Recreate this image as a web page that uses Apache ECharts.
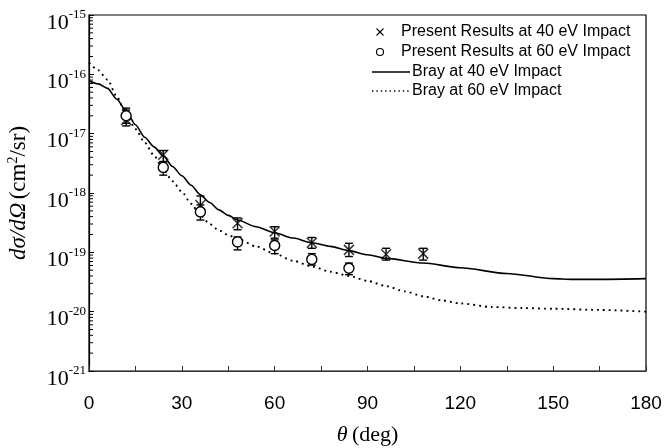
<!DOCTYPE html>
<html>
<head>
<meta charset="utf-8">
<script src="https://cdn.jsdelivr.net/npm/echarts@6/dist/echarts.min.js"></script>
<style>
html,body{margin:0;padding:0;background:#fff;}
#chart{width:666px;height:448px;}
</style>
</head>
<body>
<div id="chart"></div>
<script>
// ---- data (cm^2/sr) ----
var brayAngles = [0,3,6,9,12,15,18,21,24,27,30,33,36,39,42,45,48,54,60,66,72,78,84,90,96,108,120,135,150,156,165,180];
var bray40 = [7.8e-17,6.9e-17,5.8e-17,3.8e-17,2.4e-17,1.41e-17,8.7e-18,6.0e-18,4.2e-18,2.8e-18,1.95e-18,1.35e-18,9.3e-19,6.9e-19,5.2e-19,4.2e-19,3.5e-19,2.7e-19,2.14e-19,1.74e-19,1.45e-19,1.26e-19,1.07e-19,9.1e-20,7.9e-20,6.6e-20,5.5e-20,4.4e-20,3.6e-20,3.5e-20,3.5e-20,3.6e-20];
var bray60Angles = [0,3,6,9,12,15,18,21,24,27,30,33,36,39,42,45,48,54,60,66,72,78,84,90,96,102,108,114,120,130,140,150,165,180];
var bray60 = [1.58e-16,1.17e-16,8.1e-17,4.2e-17,2.1e-17,1.2e-17,7.1e-18,4.3e-18,2.5e-18,1.58e-18,1.05e-18,6.6e-19,4.2e-19,3.0e-19,2.35e-19,1.95e-19,1.7e-19,1.26e-19,9.5e-20,7.2e-20,5.8e-20,4.7e-20,4.0e-20,3.3e-20,2.7e-20,2.2e-20,1.82e-20,1.55e-20,1.38e-20,1.2e-20,1.15e-20,1.12e-20,1.07e-20,1.0e-20];

var exp40Angles = [12,24,36,48,60,72,84,96,108];
var exp40 = [1.7e-17,4.4e-18,6.3e-19,3.1e-19,2.24e-19,1.45e-19,1.1e-19,9.3e-20,9.5e-20];
var exp40Low = [1.35e-17,3.4e-18,5.1e-19,2.4e-19,1.73e-19,1.17e-19,8.5e-20,7.4e-20,7.4e-20];
var exp40High = [2.7e-17,5.2e-18,8.9e-19,3.8e-19,2.7e-19,1.78e-19,1.42e-19,1.17e-19,1.17e-19];

var exp60Angles = [12,24,36,48,60,72,84];
var exp60 = [2.0e-17,2.7e-18,4.8e-19,1.5e-19,1.3e-19,7.6e-20,5.4e-20];
var exp60Low = [1.5e-17,2.0e-18,3.5e-19,1.1e-19,9.5e-20,6.1e-20,4.2e-20];
var exp60High = [2.5e-17,3.2e-18,6.3e-19,1.82e-19,1.62e-19,9.5e-20,6.6e-20];

var xTicks = [0,30,60,90,120,150,180];
var yTickExps = [-21,-20,-19,-18,-17,-16,-15];
var minorMantissas = [2,3,4,5,6,7,8,9];
var legendLabels = ['Present Results at 40 eV Impact','Present Results at 60 eV Impact','Bray at 40 eV Impact','Bray at 60 eV Impact'];

// axis works in units of 1e-21 cm^2/sr (ECharts rounds below 1e-20)
var UNIT_EXP = 21;
var UNIT = 1e21;
function zip(a,b){return a.map(function(v,i){return [v,b[i]*UNIT];});}
function zipErr(a,lo,hi){return a.map(function(v,i){return [v,lo[i]*UNIT,hi[i]*UNIT];});}

// minor tick positions (axis decoration) in axis units
var minorTickVals = [];
yTickExps.slice(0, -1).forEach(function(e){
  minorMantissas.forEach(function(m){ minorTickVals.push([0, m * Math.pow(10, e + UNIT_EXP)]); });
});

var SERIF = 'Liberation Serif';
var SANS = 'Liberation Sans';

var chart = echarts.init(document.getElementById('chart'), null, {renderer:'canvas'});

function errRender(params, api){
  var x = api.value(0);
  var lo = api.coord([x, api.value(1)]);
  var hi = api.coord([x, api.value(2)]);
  var w = 4;
  return {
    type:'group',
    children:[
      {type:'line', shape:{x1:lo[0],y1:lo[1],x2:hi[0],y2:hi[1]}, style:{stroke:'#000',lineWidth:1.4}},
      {type:'line', shape:{x1:lo[0]-w,y1:lo[1],x2:lo[0]+w,y2:lo[1]}, style:{stroke:'#000',lineWidth:1.4}},
      {type:'line', shape:{x1:hi[0]-w,y1:hi[1],x2:hi[0]+w,y2:hi[1]}, style:{stroke:'#000',lineWidth:1.4}}
    ]
  };
}
function minorRender(params, api){
  var p = api.coord([api.value(0), api.value(1)]);
  return {type:'line', shape:{x1:p[0], y1:p[1], x2:p[0]+4, y2:p[1]}, style:{stroke:'#000', lineWidth:1}};
}

var option = {
  animation:false,
  backgroundColor:'#fff',
  grid:{left:89, right:20, top:15, bottom:77, outerBoundsMode:'none', containLabel:false,
        show:true, borderColor:'#000', borderWidth:1.2, backgroundColor:'transparent'},
  xAxis:{
    type:'value', min:0, max:180, interval:15,
    name:'{i|θ}{r|\u2009(deg)}', nameLocation:'middle', nameGap:53,
    nameTextStyle:{rich:{
      i:{fontFamily:SERIF, fontStyle:'italic', fontSize:22, color:'#000'},
      r:{fontFamily:SERIF, fontSize:22, color:'#000'}
    }},
    axisLine:{lineStyle:{color:'#333', width:1.2}},
    axisTick:{inside:true, length:5, lineStyle:{color:'#333'}},
    splitLine:{show:false},
    axisLabel:{
      margin:23, fontFamily:SANS, fontSize:19, color:'#000',
      formatter:function(v){ return xTicks.indexOf(v) >= 0 ? String(v) : ''; }
    }
  },
  yAxis:{
    type:'log', min:1, max:1e6, logBase:10,
    name:'{i|dσ/dΩ} {r|(cm}{s|2}{r|/sr)}', nameLocation:'middle', nameGap:58,
    nameTextStyle:{rich:{
      i:{fontFamily:SERIF, fontStyle:'italic', fontSize:23, color:'#000'},
      r:{fontFamily:SERIF, fontSize:23, color:'#000'},
      s:{fontFamily:SERIF, fontSize:14, color:'#000', padding:[0,0,11,0]}
    }},
    axisLine:{show:true, lineStyle:{color:'#000', width:1.2}},
    axisTick:{inside:true, length:5, lineStyle:{color:'#000'}},
    splitLine:{show:false},
    axisLabel:{
      margin:3, padding:[16,0,0,0],
      formatter:function(v){
        var e = Math.round(Math.log(v)/Math.LN10) - UNIT_EXP;
        if (yTickExps.indexOf(e) < 0) return '';
        return '{a|10}{b|' + e + '}';
      },
      rich:{
        a:{fontFamily:SERIF, fontSize:22, color:'#000'},
        b:{fontFamily:SERIF, fontSize:13, color:'#000', padding:[0,0,16,0]}
      }
    }
  },
  series:[
    {type:'custom', name:'minorTicks', data:minorTickVals, renderItem:minorRender, clip:false, silent:true, z:6},
    {type:'line', name:legendLabels[2], data:zip(brayAngles,bray40), showSymbol:false, symbol:'none', smooth:0.25, smoothMonotone:'x',
     lineStyle:{color:'#000', width:1.6}, z:3},
    {type:'line', name:legendLabels[3], data:zip(bray60Angles,bray60), showSymbol:false, symbol:'none', smooth:0.25, smoothMonotone:'x',
     lineStyle:{color:'#000', width:1.9, type:[1.9,4]}, z:3},
    {type:'custom', name:'err40', data:zipErr(exp40Angles,exp40Low,exp40High), renderItem:errRender, z:4},
    {type:'custom', name:'err60', data:zipErr(exp60Angles,exp60Low,exp60High), renderItem:errRender, z:4},
    {type:'scatter', name:legendLabels[0], data:zip(exp40Angles,exp40), symbol:'path://M0,0L10,10M10,0L0,10', symbolSize:10,
     itemStyle:{color:'none', borderColor:'#000', borderWidth:1.5}, z:5},
    {type:'scatter', name:legendLabels[1], data:zip(exp60Angles,exp60), symbol:'circle', symbolSize:10,
     itemStyle:{color:'#fff', borderColor:'#000', borderWidth:1.4, opacity:1}, z:5}
  ]
};
chart.setOption(option);

// legend as graphic decoration
var g = [];
var lx = 380, rows = [32, 52, 72, 91];
g.push({type:'line', shape:{x1:lx-3.5,y1:rows[0]-3.5,x2:lx+3.5,y2:rows[0]+3.5}, style:{stroke:'#000',lineWidth:1.1}});
g.push({type:'line', shape:{x1:lx-3.5,y1:rows[0]+3.5,x2:lx+3.5,y2:rows[0]-3.5}, style:{stroke:'#000',lineWidth:1.1}});
g.push({type:'circle', shape:{cx:lx,cy:rows[1],r:3.5}, style:{stroke:'#000',fill:'none',lineWidth:1.1}});
g.push({type:'line', shape:{x1:372,y1:rows[2],x2:410,y2:rows[2]}, style:{stroke:'#000',lineWidth:1.3}});
g.push({type:'line', shape:{x1:372,y1:rows[3],x2:410,y2:rows[3]}, style:{stroke:'#000',lineWidth:1.4,lineDash:[1.4,3]}});
var tx = [401, 401, 412, 412];
for (var i=0;i<4;i++){
  g.push({type:'text', x:tx[i], y:rows[i], style:{text:legendLabels[i], fontFamily:SANS, fontSize:16, fill:'#000', textVerticalAlign:'middle', verticalAlign:'middle'}});
}
chart.setOption({graphic:g});
</script>
</body>
</html>
